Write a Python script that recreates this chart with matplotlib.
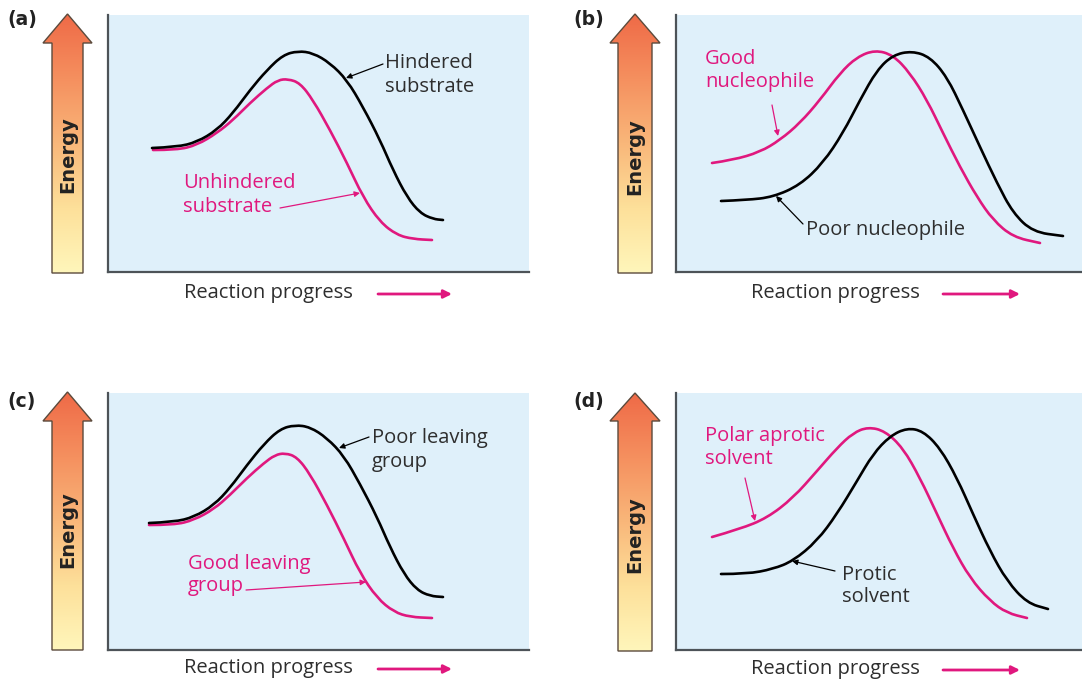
import numpy as np
import matplotlib
matplotlib.use("Agg")
import matplotlib.pyplot as plt
from matplotlib.patches import Polygon, PathPatch
from matplotlib.path import Path
from matplotlib.colors import LinearSegmentedColormap

W, H = 1082, 681
MAGENTA = "#e0187e"
DARK = "#2e2e2e"
PANEL_BG = "#dff0fa"
TEXT_FONT = "Open Sans"

# energy profiles: x = reaction progress, y = energy (arbitrary units)
a_black_x = [44, 69, 89, 109, 125, 142, 159, 175, 190, 205, 222, 239, 255, 272, 285, 299, 312, 325, 335]
a_black_y = [124, 125, 130, 142, 159, 182, 202, 217, 221, 219, 209, 192, 165, 132, 102, 75, 59, 53, 52]
a_pink_x = [45, 69, 89, 109, 125, 142, 159, 170, 180, 192, 205, 222, 239, 255, 272, 289, 305, 324]
a_pink_y = [122, 122, 127, 139, 152, 169, 184, 192, 193, 189, 172, 142, 109, 75, 50, 37, 33, 32]

b_pink_x = [36, 57, 84, 104, 124, 144, 164, 181, 199, 217, 234, 251, 267, 284, 301, 317, 337, 364]
b_pink_y = [109, 112, 120, 132, 149, 172, 199, 215, 222, 217, 199, 172, 139, 105, 75, 52, 35, 29]
b_black_x = [45, 71, 97, 124, 147, 167, 184, 201, 217, 236, 254, 271, 287, 304, 321, 337, 357, 387]
b_black_y = [71, 72, 75, 87, 109, 139, 172, 202, 217, 221, 215, 195, 162, 125, 89, 59, 40, 36]

c_black_x = [41, 66, 86, 106, 122, 139, 156, 172, 187, 202, 219, 236, 252, 269, 282, 296, 309, 322, 335]
c_black_y = [127, 128, 133, 145, 162, 185, 206, 221, 225, 223, 212, 194, 166, 133, 103, 76, 60, 54, 53]
c_pink_x = [41, 66, 86, 106, 122, 139, 156, 167, 177, 189, 202, 219, 236, 252, 269, 286, 302, 324]
c_pink_y = [125, 125, 130, 141, 155, 172, 187, 195, 197, 193, 176, 145, 111, 77, 52, 38, 33, 32]

d_pink_x = [36, 64, 91, 117, 141, 161, 177, 192, 209, 227, 244, 261, 277, 294, 314, 331, 351]
d_pink_y = [113, 121, 132, 152, 179, 202, 217, 223, 219, 202, 172, 136, 102, 72, 49, 37, 32]
d_black_x = [45, 71, 97, 117, 141, 161, 181, 197, 214, 231, 247, 264, 281, 297, 314, 331, 351, 372]
d_black_y = [76, 76, 81, 89, 109, 136, 169, 196, 214, 222, 219, 202, 172, 136, 99, 69, 47, 41]

panel_tags = ["(a)", "(b)", "(c)", "(d)"]
black_labels = ["Hindered\nsubstrate", "Poor nucleophile", "Poor leaving\ngroup", "Protic\nsolvent"]
pink_labels = ["Unhindered\nsubstrate", "Good\nnucleophile", "Good leaving\ngroup", "Polar aprotic\nsolvent"]


def fig_rect(left, top, right, bottom):
    return [left / W, 1 - bottom / H, (right - left) / W, (bottom - top) / H]


def px(x, y):
    return x / W, 1 - y / H


fig = plt.figure(figsize=(W / 100, H / 100), dpi=100)
fig.patch.set_facecolor("white")

energy_cmap = LinearSegmentedColormap.from_list(
    "energy", ["#ef6a47", "#f5905f", "#f9b77a", "#fde09a", "#fff6bb"])


def smooth_curve(ax, xs, ys, color):
    # quadratic bezier through the midpoints, read points used as control points
    pts = np.column_stack([xs, ys]).astype(float)
    verts = [pts[0]]
    codes = [Path.MOVETO]
    for i in range(1, len(pts) - 1):
        verts += [pts[i], (pts[i] + pts[i + 1]) / 2]
        codes += [Path.CURVE3, Path.CURVE3]
    verts.append(pts[-1])
    codes.append(Path.LINETO)
    ax.add_patch(PathPatch(Path(verts, codes), facecolor="none", edgecolor=color,
                           lw=1.9, capstyle="round", joinstyle="round"))


def energy_arrow(left, right, top, bottom, shaft_l, shaft_r, head_base, text_y):
    ax = fig.add_axes(fig_rect(left - 2, top - 2, right + 2, bottom + 2))
    ax.set_xlim(left - 2, right + 2)
    ax.set_ylim(bottom + 2, top - 2)
    ax.axis("off")
    mid = (left + right) / 2
    pts = [(shaft_l, bottom), (shaft_r, bottom), (shaft_r, head_base), (right, head_base),
           (mid, top), (left, head_base), (shaft_l, head_base)]
    grad = np.linspace(0, 1, 256).reshape(-1, 1)
    im = ax.imshow(grad, extent=(left, right, bottom, top), cmap=energy_cmap,
                   aspect="auto", origin="upper")
    clip = Polygon(pts, closed=True, facecolor="none", edgecolor="none")
    ax.add_patch(clip)
    im.set_clip_path(clip)
    ax.add_patch(Polygon(pts, closed=True, facecolor="none", edgecolor="#5b4a3c",
                         lw=1.0, joinstyle="miter"))
    ax.text((shaft_l + shaft_r) / 2, text_y, "Energy", rotation=90, ha="center",
            va="center", fontsize=14, fontweight="bold", color="#222222",
            family="DejaVu Sans")


def panel(rect_px, curves, tag, tag_xy, ann, arrow_x, text_x, prog_y):
    left, top, right, bottom = rect_px
    ax = fig.add_axes(fig_rect(*rect_px))
    ax.set_xlim(0, right - left)
    ax.set_ylim(0, bottom - top)
    ax.set_facecolor(PANEL_BG)
    for s in ["top", "right"]:
        ax.spines[s].set_visible(False)
    for s in ["left", "bottom"]:
        ax.spines[s].set_color("#4d5358")
        ax.spines[s].set_linewidth(1.6)
    ax.set_xticks([])
    ax.set_yticks([])
    for xs, ys, col in curves:
        smooth_curve(ax, xs, ys, col)
    for label, col, txy, tail, head in ann:
        ax.text(txy[0], txy[1], label, color=col if col == MAGENTA else DARK,
                fontsize=14.5, ha="left", va="center", linespacing=1.2, family=TEXT_FONT)
        ax.annotate("", xy=head, xytext=tail,
                    arrowprops=dict(arrowstyle="-|>", color=col, lw=0.9,
                                    mutation_scale=8, shrinkA=0, shrinkB=0))
    fig.text(*px(*tag_xy), tag, fontsize=13.5, fontweight="bold", ha="center",
             va="center", color="#222222", family="DejaVu Sans")
    fig.text(*px(text_x, prog_y), "Reaction progress", fontsize=14.5, ha="center",
             va="center", color=DARK, family=TEXT_FONT)
    ax.annotate("", xy=px(arrow_x[1], prog_y + 1), xytext=px(arrow_x[0], prog_y + 1),
                xycoords="figure fraction", textcoords="figure fraction",
                arrowprops=dict(arrowstyle="-|>", color=MAGENTA, lw=2.0,
                                mutation_scale=12, shrinkA=0, shrinkB=0))


# top-left (a)
energy_arrow(43, 92, 14, 273, 52, 83, 43, 155)
panel((108, 15, 529, 272),
      [(a_pink_x, a_pink_y, MAGENTA), (a_black_x, a_black_y, "black")],
      panel_tags[0], (22, 20),
      [(black_labels[0], "black", (277, 197), (275, 208), (238, 194)),
       (pink_labels[0], MAGENTA, (75, 77), (172, 64), (252, 79))],
      (378, 452), 268, 293)

# top-right (b)
energy_arrow(610, 660, 14, 273, 618, 652, 43, 157)
panel((676, 15, 1082, 272),
      [(b_pink_x, b_pink_y, MAGENTA), (b_black_x, b_black_y, "black")],
      panel_tags[1], (589, 20),
      [(pink_labels[1], MAGENTA, (29, 202), (96, 167), (102, 136)),
       (black_labels[1], "black", (130, 42), (127, 48), (100, 76))],
      (943, 1020), 835, 293)

# bottom-left (c)
energy_arrow(43, 92, 392, 650, 52, 83, 421, 530)
panel((108, 393, 529, 650),
      [(c_pink_x, c_pink_y, MAGENTA), (c_black_x, c_black_y, "black")],
      panel_tags[2], (22, 402),
      [(black_labels[2], "black", (264, 200), (261, 213), (231, 202)),
       (pink_labels[2], MAGENTA, (80, 75), (138, 60), (258, 68))],
      (378, 452), 268, 668)

# bottom-right (d)
energy_arrow(610, 660, 393, 651, 618, 652, 421, 535)
panel((676, 393, 1082, 650),
      [(d_pink_x, d_pink_y, MAGENTA), (d_black_x, d_black_y, "black")],
      panel_tags[3], (589, 402),
      [(pink_labels[3], MAGENTA, (29, 203), (69, 172), (79, 129)),
       (black_labels[3], "black", (166, 64), (159, 79), (116, 89))],
      (943, 1020), 835, 669)

fig.savefig("out.png", dpi=100)
